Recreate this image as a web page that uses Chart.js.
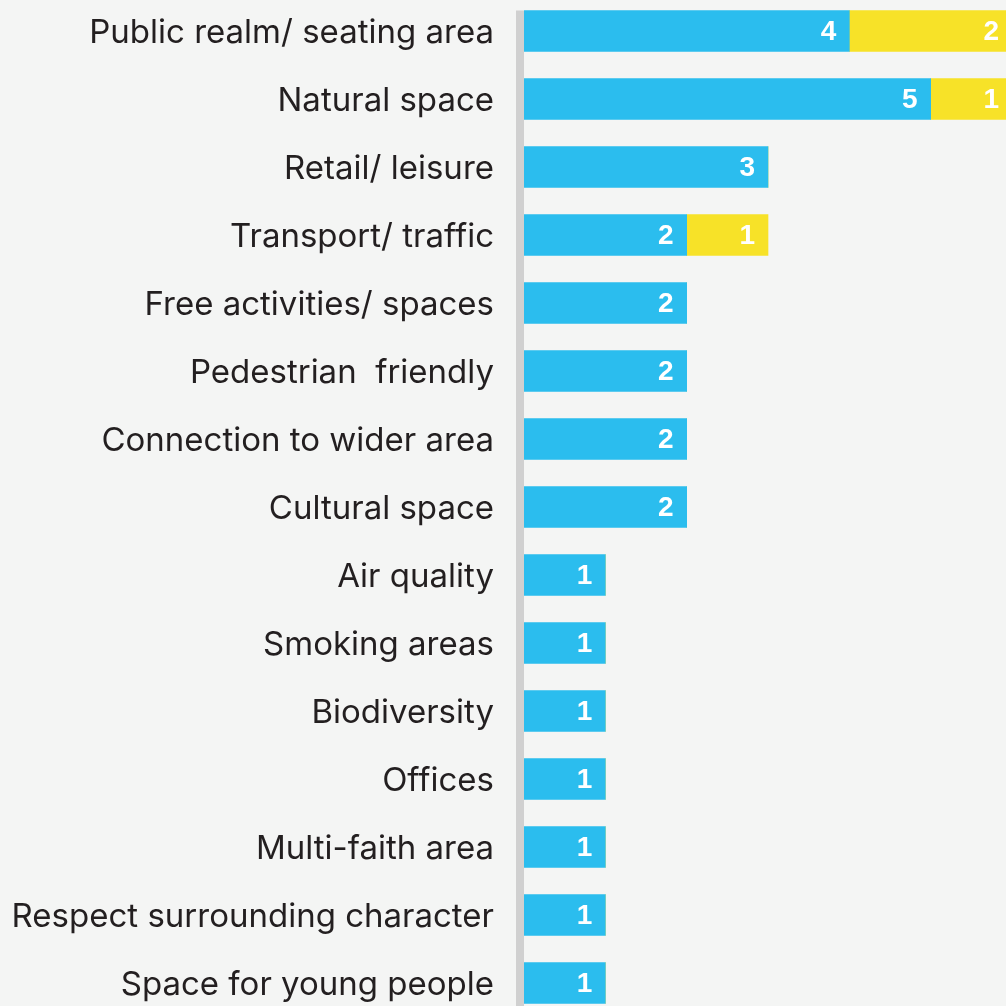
<!DOCTYPE html>
<html><head><meta charset="utf-8">
<script src="https://cdn.jsdelivr.net/npm/chart.js@4/dist/chart.umd.min.js"></script>
<style>
html,body{margin:0;padding:0;background:#f4f5f4;overflow:hidden;width:1006px;height:1006px;}
#c{position:absolute;left:0;top:-3px;}
</style></head><body>
<canvas id="c" width="1012" height="1020"></canvas>
<script>
const categories = ["Public realm/ seating area","Natural space","Retail/ leisure","Transport/ traffic","Free activities/ spaces","Pedestrian  friendly","Connection to wider area","Cultural space","Air quality","Smoking areas","Biodiversity","Offices","Multi-faith area","Respect surrounding character","Space for young people"];
const blueValues = [4,5,3,2,2,2,2,2,1,1,1,1,1,1,1];
const yellowValues = [2,1,0,1,0,0,0,0,0,0,0,0,0,0,0];

const labelPlugin = {
  id:'labels',
  beforeDatasetsDraw(chart){
    const ctx = chart.ctx, ca = chart.chartArea;
    const meta = chart.getDatasetMeta(0);
    const first = meta.data[0];
    const top = first.y - first.height/2;
    ctx.save();
    ctx.fillStyle = '#d0d0d0';
    ctx.fillRect(ca.left-8, top, 8, ca.bottom - top + 10);
    ctx.restore();
  },
  afterDatasetsDraw(chart){
    const ctx = chart.ctx;
    ctx.save();
    ctx.font = 'bold 28px "Liberation Sans", Arial, sans-serif';
    ctx.fillStyle = '#ffffff';
    ctx.textAlign = 'right';
    ctx.textBaseline = 'middle';
    chart.data.datasets.forEach((ds, di) => {
      const meta = chart.getDatasetMeta(di);
      meta.data.forEach((bar, i) => {
        const v = ds.data[i];
        if (!v) return;
        ctx.fillText(String(v), bar.x - 13, bar.y + 1);
      });
    });
    ctx.restore();
  }
};

new Chart(document.getElementById('c'), {
  type: 'bar',
  data: {
    labels: categories,
    datasets: [
      {label:'Blue', data: blueValues, backgroundColor:'#2bbdee', barThickness:41, borderWidth:0},
      {label:'Yellow', data: yellowValues, backgroundColor:'#f7e228', barThickness:41, borderWidth:0}
    ]
  },
  options: {
    indexAxis: 'y',
    responsive: false,
    animation: false,
    layout: {padding: 0},
    plugins: {legend:{display:false}, tooltip:{enabled:false}},
    scales: {
      x: {stacked:true, min:0, max:6, display:false, grid:{display:false}},
      y: {stacked:true, grid:{display:false, drawTicks:false}, border:{display:false},
          ticks:{color:'#231f20', padding:30, labelOffset:2, font:{family:'Inter', size:33}},
          afterFit(scale){ scale.width = 524; scale.paddingTop = 0; scale.paddingBottom = 0; }
      }
    }
  },
  plugins:[labelPlugin]
});
</script>
</body></html>
